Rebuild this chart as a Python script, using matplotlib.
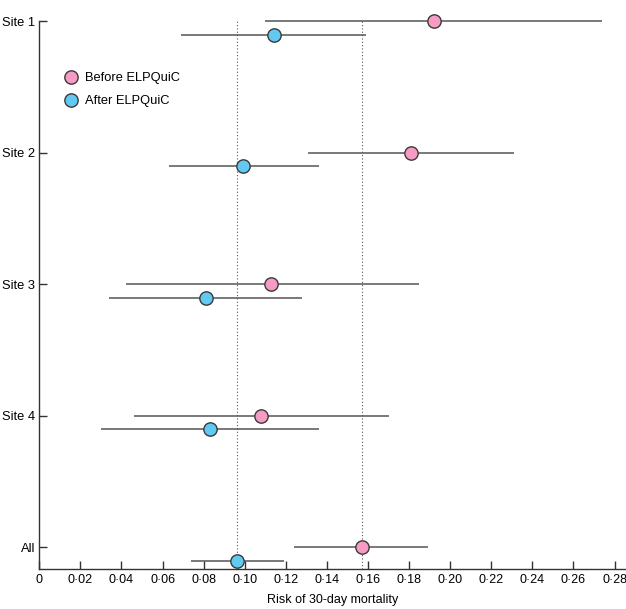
import matplotlib.pyplot as plt
import numpy as np

sites = ["Site 1", "Site 2", "Site 3", "Site 4", "All"]

before_est = [0.192, 0.181, 0.113, 0.108, 0.157]
before_lo = [0.110, 0.131, 0.042, 0.046, 0.124]
before_hi = [0.274, 0.231, 0.185, 0.170, 0.189]

after_est = [0.114, 0.099, 0.081, 0.083, 0.096]
after_lo = [0.069, 0.063, 0.034, 0.030, 0.074]
after_hi = [0.159, 0.136, 0.128, 0.136, 0.119]

ref_lines = [0.096, 0.157]
xticks = np.arange(0, 0.281, 0.02)

pink = "#f59bc4"
blue = "#62c9f0"

plt.rcParams['font.family'] = ['Liberation Sans', 'DejaVu Sans']

fig = plt.figure(figsize=(6.26, 6.09), dpi=100)
ax = fig.add_axes([0.0628, 0.0657, 0.937, 0.8998])

ypos = np.arange(len(sites))[::-1].astype(float)
off = 0.105

for x in ref_lines:
    ax.axvline(x, color="#555555", lw=0.8, ls=(0, (1, 2)), zorder=1)

b = np.array(before_est)
eb1 = ax.errorbar(b, ypos, xerr=[b - np.array(before_lo), np.array(before_hi) - b],
                  fmt="o", ms=9.6, mfc=pink, mec="#3a3a3a", mew=1, ecolor="#555555",
                  elinewidth=1.1, capsize=0, zorder=3, label="Before ELPQuiC")
a = np.array(after_est)
eb2 = ax.errorbar(a, ypos - off, xerr=[a - np.array(after_lo), np.array(after_hi) - a],
                  fmt="o", ms=9.6, mfc=blue, mec="#3a3a3a", mew=1, ecolor="#555555",
                  elinewidth=1.1, capsize=0, zorder=3, label="After ELPQuiC")
for eb in (eb1, eb2):
    eb[0].set_clip_on(False)
    for c in eb[2]:
        c.set_clip_on(False)

ax.set_xlim(0, 0.2855)
ax.set_ylim(-0.167, 4)
ax.set_yticks(ypos)
ax.set_yticklabels(sites, fontsize=9.3)
ax.set_xticks(xticks)
ax.set_xticklabels(["0"] + [("%.2f" % v).replace(".", "\u00b7") for v in xticks[1:]],
                   fontsize=9)
ax.tick_params(axis="both", direction="in", length=6, width=1, color="#333333")
ax.tick_params(axis="x", pad=3.5)
ax.tick_params(axis="y", pad=3)
for s in ["top", "right"]:
    ax.spines[s].set_visible(False)
for s in ["left", "bottom"]:
    ax.spines[s].set_color("#333333")
    ax.spines[s].set_linewidth(1)

ax.set_xlabel("Risk of 30-day mortality", fontsize=9, labelpad=6)

handles, labels = ax.get_legend_handles_labels()
handles = [h[0] for h in handles]
ax.legend(handles, labels, loc="upper left", bbox_to_anchor=(0.029, 0.918),
          frameon=False, fontsize=9.3, handletextpad=0.55, labelspacing=0.85,
          borderpad=0, handlelength=1.2)

fig.savefig("out.png", dpi=100)
